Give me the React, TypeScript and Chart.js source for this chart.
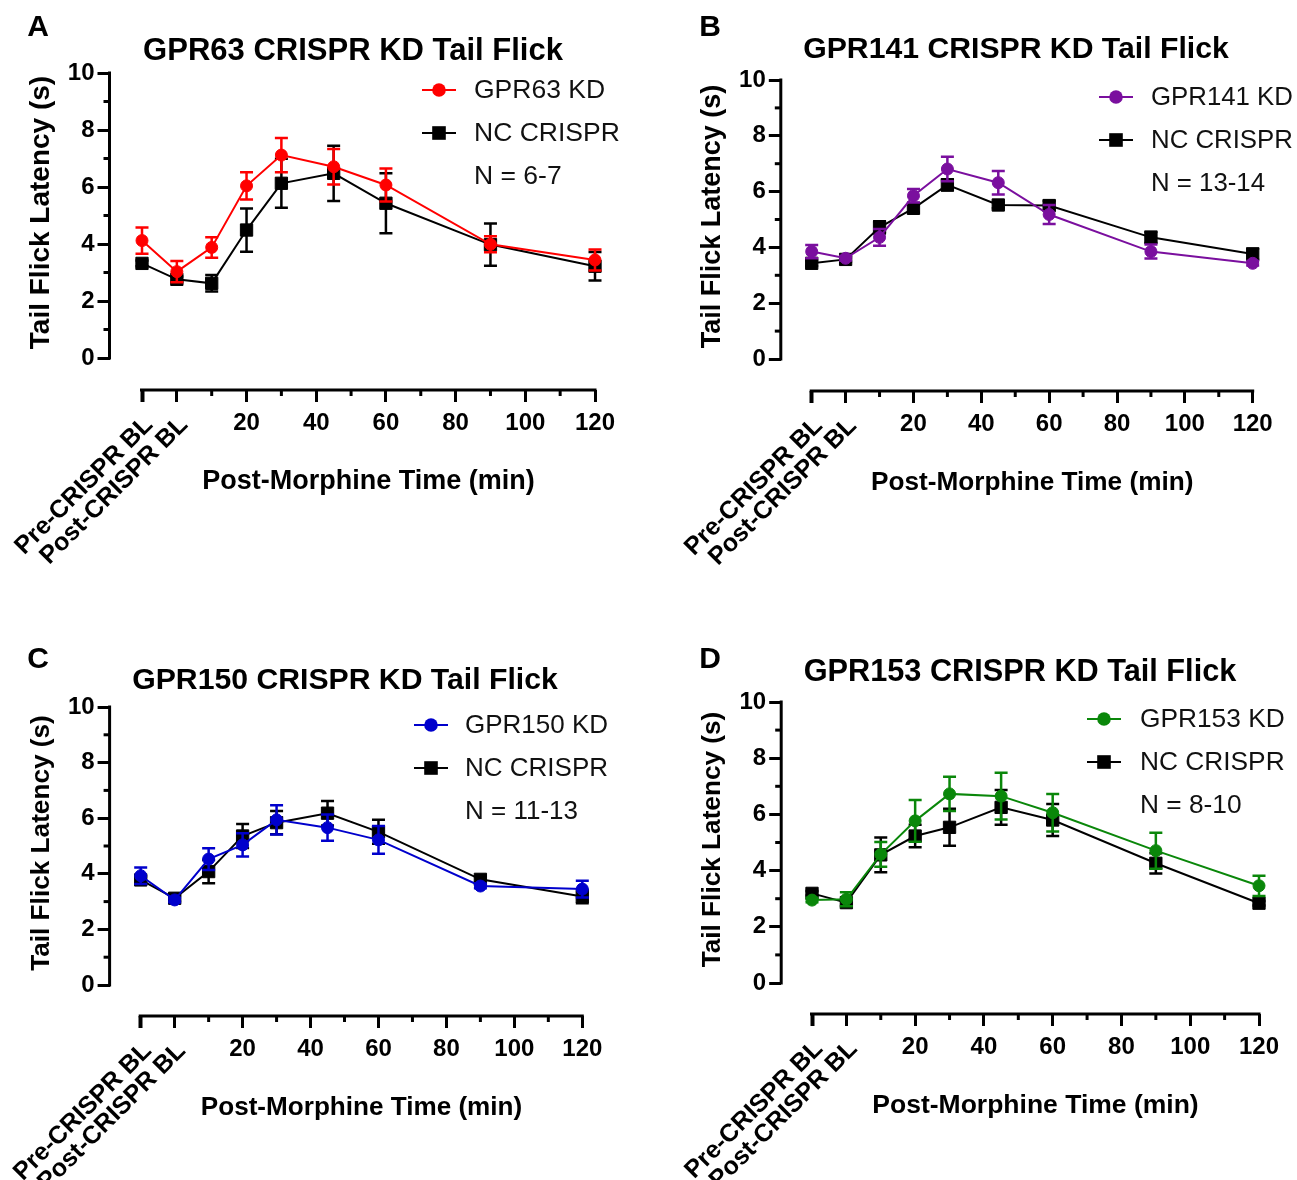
import React, { useEffect, useRef } from 'react';
import { Chart, registerables } from 'chart.js';
Chart.register(...registerables);

const FONT = '"Liberation Sans", Arial, Helvetica, sans-serif';

// ---------- shared axis data ----------
const timePoints = [-10, 0, 10, 20, 30, 45, 60, 90, 120];
const xTickValues = [-10, 0, 10, 20, 30, 40, 50, 60, 70, 80, 90, 100, 110, 120];
const xLabeledTicks = [20, 40, 60, 80, 100, 120];
const xMinorTicks = [10, 30, 50, 70, 90, 110];
const yTickValues = [0, 1, 2, 3, 4, 5, 6, 7, 8, 9, 10];
const yLabeledTicks = [0, 2, 4, 6, 8, 10];
const baselineTimes = [-10, 0];
const baselineLabels = ['Pre-CRISPR BL', 'Post-CRISPR BL'];
const xAxisTitle = 'Post-Morphine Time (min)';
const yAxisTitle = 'Tail Flick Latency (s)';
const controlLabel = 'NC CRISPR';

const panelLetters = ['A', 'B', 'C', 'D'];
const panelTitles = [
  'GPR63 CRISPR KD Tail Flick',
  'GPR141 CRISPR KD Tail Flick',
  'GPR150 CRISPR KD Tail Flick',
  'GPR153 CRISPR KD Tail Flick',
];
const kdLabels = ['GPR63 KD', 'GPR141 KD', 'GPR150 KD', 'GPR153 KD'];
const sampleSizes = ['N = 6-7', 'N = 13-14', 'N = 11-13', 'N = 8-10'];

// ---------- series values (mean, SEM) ----------
const gpr63Mean = [4.12, 3.03, 3.88, 6.04, 7.12, 6.71, 6.07, 3.99, 3.44];
const gpr63Sem = [0.46, 0.37, 0.36, 0.48, 0.6, 0.62, 0.58, 0.28, 0.37];
const ncAMean = [3.32, 2.76, 2.62, 4.49, 6.13, 6.48, 5.43, 3.98, 3.22];
const ncASem = [0.1, 0.1, 0.29, 0.76, 0.86, 0.97, 1.05, 0.74, 0.5];

const gpr141Mean = [3.85, 3.61, 4.36, 5.85, 6.81, 6.32, 5.18, 3.85, 3.43];
const gpr141Sem = [0.24, 0.08, 0.3, 0.24, 0.44, 0.42, 0.34, 0.25, 0.08];
const ncBMean = [3.43, 3.57, 4.72, 5.4, 6.24, 5.52, 5.5, 4.36, 3.76];
const ncBSem = [0.1, 0.08, 0.22, 0.15, 0.2, 0.12, 0.17, 0.2, 0.2];

const gpr150Mean = [3.93, 3.06, 4.53, 5.04, 5.94, 5.66, 5.22, 3.56, 3.45];
const gpr150Sem = [0.3, 0.08, 0.39, 0.42, 0.53, 0.47, 0.5, 0.08, 0.3];
const ncCMean = [3.78, 3.12, 4.08, 5.36, 5.84, 6.18, 5.51, 3.8, 3.18];
const ncCSem = [0.12, 0.1, 0.42, 0.43, 0.42, 0.44, 0.43, 0.1, 0.24];

const gpr153Mean = [2.95, 2.98, 4.58, 5.77, 6.73, 6.65, 6.06, 4.71, 3.46];
const gpr153Sem = [0.08, 0.25, 0.44, 0.74, 0.61, 0.83, 0.67, 0.64, 0.36];
const ncDMean = [3.19, 2.86, 4.56, 5.23, 5.54, 6.25, 5.8, 4.26, 2.84];
const ncDSem = [0.08, 0.12, 0.62, 0.4, 0.66, 0.62, 0.57, 0.36, 0.08];

const kdMeans = [gpr63Mean, gpr141Mean, gpr150Mean, gpr153Mean];
const kdSems = [gpr63Sem, gpr141Sem, gpr150Sem, gpr153Sem];
const ncMeans = [ncAMean, ncBMean, ncCMean, ncDMean];
const ncSems = [ncASem, ncBSem, ncCSem, ncDSem];

// ---------- styles / layout (page pixel coordinates) ----------
const kdColors = ['#ff0000', '#7a0f9e', '#0000cc', '#0a870a'];
const ncColor = '#000000';

const layouts = [
  { cx: 0, cy: 0, cw: 650, ch: 590, axisX: 109.5, pM10: 142, p120: 595, p10: 73, p0: 358, axisY: 390,
    title: [353, 51], letter: [38, 28], legend: [439, 90], legendText: 474,
    titleSize: 31, xTitleSize: 27, yTitleSize: 28, legendSize: 26.5 },
  { cx: 650, cy: 0, cw: 647, ch: 590, axisX: 780.8, pM10: 811.7, p120: 1252.7, p10: 80, p0: 359, axisY: 391,
    title: [1016, 50], letter: [710, 28], legend: [1116, 97], legendText: 1151,
    titleSize: 30.2, xTitleSize: 26.2, yTitleSize: 27, legendSize: 25.8 },
  { cx: 0, cy: 590, cw: 650, ch: 590, axisX: 109.6, pM10: 140.7, p120: 582.3, p10: 707, p0: 985, axisY: 1016,
    title: [345, 681], letter: [38, 660], legend: [431, 725], legendText: 465,
    titleSize: 30.2, xTitleSize: 26.1, yTitleSize: 26.2, legendSize: 26 },
  { cx: 650, cy: 590, cw: 647, ch: 590, axisX: 781.2, pM10: 812, p120: 1259, p10: 702, p0: 983, axisY: 1014,
    title: [1020, 673], letter: [710, 660], legend: [1104, 719], legendText: 1140,
    titleSize: 30.7, xTitleSize: 26.5, yTitleSize: 26.2, legendSize: 26.3 },
];

const Y_SCALE_W = 60;
const X_SCALE_H = 60;

function Panel({ idx }: { idx: number }) {
  const ref = useRef<HTMLCanvasElement | null>(null);
  const L = layouts[idx];
  useEffect(() => {
    const canvas = ref.current;
    if (!canvas) return;
    const left = L.axisX - L.cx;
    const right = L.p120 - L.cx;
    const top = L.p10 - L.cy;
    const bottom = L.axisY - L.cy;
    const kx = (L.p120 - L.pM10) / 130;
    const xMin = -10 - (L.pM10 - L.axisX) / kx;
    const ky = (L.p0 - L.p10) / 10;
    const yMin = -(L.axisY - L.p0) / ky;
    const color = kdColors[idx];

    const decor = {
      id: 'panelDecor' + idx,
      beforeDatasetDraw(chart: any, args: any) {
        const ds = chart.data.datasets[args.index];
        const sem: number[] = ds.sem;
        if (!sem) return;
        const xs = chart.scales.x;
        const ys = chart.scales.y;
        const ctx = chart.ctx;
        ctx.save();
        ctx.strokeStyle = ds.borderColor;
        ctx.lineWidth = 2.5;
        ds.data.forEach((p: any, i: number) => {
          const px = xs.getPixelForValue(p.x);
          const t = ys.getPixelForValue(p.y + sem[i]);
          const b = ys.getPixelForValue(p.y - sem[i]);
          ctx.beginPath();
          ctx.moveTo(px, t); ctx.lineTo(px, b);
          ctx.moveTo(px - 6.5, t); ctx.lineTo(px + 6.5, t);
          ctx.moveTo(px - 6.5, b); ctx.lineTo(px + 6.5, b);
          ctx.stroke();
        });
        ctx.restore();
      },
      afterDraw(chart: any) {
        const ctx = chart.ctx;
        const xs = chart.scales.x;
        const ys = chart.scales.y;
        const ca = chart.chartArea;
        ctx.save();
        ctx.strokeStyle = '#000';
        ctx.fillStyle = '#000';
        ctx.lineWidth = 3;
        ctx.lineCap = 'butt';
        // y axis line (0..10)
        ctx.beginPath();
        ctx.moveTo(ca.left, ys.getPixelForValue(10) - 1.5);
        ctx.lineTo(ca.left, ys.getPixelForValue(0) + 1.5);
        ctx.stroke();
        // minor y ticks
        yTickValues.filter(v => v % 2 === 1).forEach(v => {
          const py = ys.getPixelForValue(v);
          ctx.beginPath(); ctx.moveTo(ca.left - 6, py); ctx.lineTo(ca.left, py); ctx.stroke();
        });
        // x axis line (-10..120)
        ctx.beginPath();
        ctx.moveTo(xs.getPixelForValue(-10) - 2, ca.bottom);
        ctx.lineTo(xs.getPixelForValue(120) + 1.5, ca.bottom);
        ctx.stroke();
        // minor x ticks
        xMinorTicks.forEach(v => {
          const px = xs.getPixelForValue(v);
          ctx.beginPath(); ctx.moveTo(px, ca.bottom); ctx.lineTo(px, ca.bottom + 6); ctx.stroke();
        });
        // rotated baseline labels
        ctx.font = `bold 25px ${FONT}`;
        ctx.textAlign = 'right';
        ctx.textBaseline = 'middle';
        baselineTimes.forEach((t, i) => {
          const px = xs.getPixelForValue(t);
          ctx.save();
          ctx.translate(px + 7, ca.bottom + 31);
          ctx.rotate(-Math.PI / 4);
          ctx.fillText(baselineLabels[i], 0, 0);
          ctx.restore();
        });
        // axis titles
        ctx.font = `bold ${L.xTitleSize}px ${FONT}`;
        ctx.textAlign = 'center';
        ctx.textBaseline = 'middle';
        const xc = (xs.getPixelForValue(-10) + xs.getPixelForValue(120)) / 2;
        ctx.fillText(xAxisTitle, xc, ca.bottom + 92);
        const yc = (ys.getPixelForValue(0) + ys.getPixelForValue(10)) / 2;
        ctx.save();
        ctx.font = `bold ${L.yTitleSize}px ${FONT}`;
        ctx.translate(ca.left - 68, yc - 3);
        ctx.rotate(-Math.PI / 2);
        ctx.fillText(yAxisTitle, 0, 0);
        ctx.restore();
        // panel title & letter
        ctx.font = `bold ${L.titleSize}px ${FONT}`;
        ctx.fillText(panelTitles[idx], L.title[0] - L.cx, L.title[1] - L.cy);
        ctx.font = `bold 30px ${FONT}`;
        ctx.fillText(panelLetters[idx], L.letter[0] - L.cx, L.letter[1] - L.cy);
        // legend
        const lx = L.legend[0] - L.cx;
        const ly = L.legend[1] - L.cy;
        const tx = L.legendText - L.cx;
        const rows = [
          { c: color, shape: 'circle', label: kdLabels[idx] },
          { c: ncColor, shape: 'rect', label: controlLabel },
        ];
        ctx.font = `${L.legendSize}px ${FONT}`;
        ctx.textAlign = 'left';
        rows.forEach((r, i) => {
          const y = ly + i * 43;
          ctx.strokeStyle = r.c;
          ctx.fillStyle = r.c;
          ctx.lineWidth = 2;
          ctx.beginPath(); ctx.moveTo(lx - 17, y); ctx.lineTo(lx + 17, y); ctx.stroke();
          if (r.shape === 'circle') {
            ctx.beginPath(); ctx.arc(lx, y, 6.8, 0, Math.PI * 2); ctx.fill();
          } else {
            ctx.fillRect(lx - 6.8, y - 6.8, 13.6, 13.6);
          }
          ctx.fillStyle = '#111';
          ctx.fillText(r.label, tx, y + 1);
        });
        ctx.fillStyle = '#111';
        ctx.fillText(sampleSizes[idx], tx, ly + 2 * 43 + 1);
        ctx.restore();
      },
    };

    const chart = new Chart(canvas, {
      type: 'line',
      data: {
        datasets: [
          {
            label: kdLabels[idx],
            data: timePoints.map((t, i) => ({ x: t, y: kdMeans[idx][i] })),
            sem: kdSems[idx],
            borderColor: color,
            backgroundColor: color,
            borderWidth: 2,
            pointStyle: 'circle',
            pointRadius: 6,
            pointBorderWidth: 1,
            pointBackgroundColor: color,
            pointBorderColor: color,
            tension: 0,
            clip: false,
          } as any,
          {
            label: controlLabel,
            data: timePoints.map((t, i) => ({ x: t, y: ncMeans[idx][i] })),
            sem: ncSems[idx],
            borderColor: ncColor,
            backgroundColor: ncColor,
            borderWidth: 2,
            pointStyle: 'rect',
            pointRadius: 8.7,
            pointBorderWidth: 1,
            pointBackgroundColor: ncColor,
            pointBorderColor: ncColor,
            tension: 0,
            clip: false,
          } as any,
        ],
      },
      options: {
        animation: false,
        responsive: false,
        maintainAspectRatio: false,
        layout: {
          padding: {
            left: left - Y_SCALE_W,
            top: top,
            right: L.cw - right,
            bottom: L.ch - bottom - X_SCALE_H,
          },
        },
        plugins: {
          legend: { display: false },
          tooltip: { enabled: false },
          title: { display: false },
        },
        scales: {
          x: {
            type: 'linear',
            position: 'bottom',
            min: xMin,
            max: 120,
            afterBuildTicks: (s: any) => { s.ticks = xTickValues.map(v => ({ value: v })); },
            afterFit: (s: any) => { s.height = X_SCALE_H; },
            border: { display: false },
            grid: {
              drawOnChartArea: false,
              drawTicks: true,
              tickLength: 12,
              tickWidth: (c: any) => (c.tick && c.tick.value === -10 ? 4 : 3),
              tickColor: (c: any) => (c.tick && xMinorTicks.includes(c.tick.value) ? 'rgba(0,0,0,0)' : '#000'),
            },
            ticks: {
              autoSkip: false,
              maxRotation: 0,
              minRotation: 0,
              padding: 7,
              color: '#000',
              font: { family: FONT, size: 24, weight: 'bold' },
              callback: (v: any) => (xLabeledTicks.includes(Number(v)) ? String(v) : ''),
            },
          },
          y: {
            type: 'linear',
            position: 'left',
            min: yMin,
            max: 10,
            afterBuildTicks: (s: any) => { s.ticks = yTickValues.map(v => ({ value: v })); },
            afterFit: (s: any) => { s.width = Y_SCALE_W; },
            border: { display: false },
            grid: {
              drawOnChartArea: false,
              drawTicks: true,
              tickLength: 12,
              tickWidth: 3,
              tickColor: (c: any) => (c.tick && c.tick.value % 2 === 1 ? 'rgba(0,0,0,0)' : '#000'),
            },
            ticks: {
              autoSkip: false,
              padding: 3,
              color: '#000',
              font: { family: FONT, size: 24, weight: 'bold' },
              callback: (v: any) => (yLabeledTicks.includes(Number(v)) ? String(v) : ''),
            },
          },
        },
      } as any,
      plugins: [decor],
    });
    return () => chart.destroy();
  }, [idx]);
  return (
    <canvas
      ref={ref}
      width={L.cw}
      height={L.ch}
      style={{ position: 'absolute', left: L.cx, top: L.cy, width: L.cw, height: L.ch }}
    />
  );
}

export default function App() {
  return (
    <div style={{ position: 'absolute', left: 0, top: 0, width: 1297, height: 1180, background: '#fff', overflow: 'hidden' }}>
      {[0, 1, 2, 3].map(i => <Panel key={i} idx={i} />)}
    </div>
  );
}
